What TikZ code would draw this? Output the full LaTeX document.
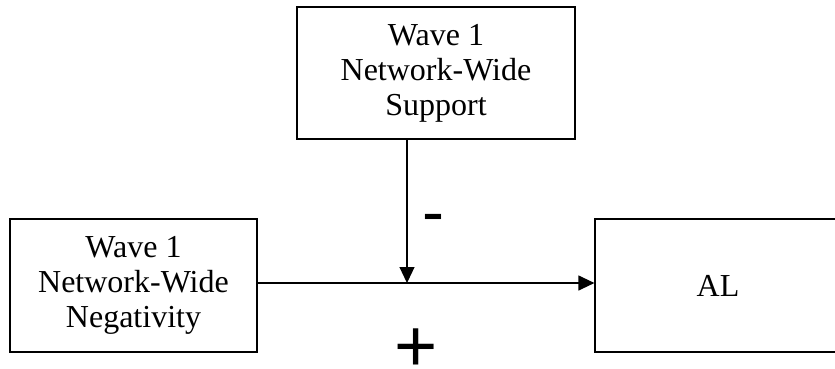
\documentclass[tikz,border=0pt]{standalone}
\usepackage{fontspec}
\setmainfont{Liberation Serif}
\newfontfamily\signfont{Liberation Sans}
\usetikzlibrary{arrows.meta}
\begin{document}
\begin{tikzpicture}[x=1pt,y=1pt,
  boxtext/.style={inner sep=0pt, align=center, font=\fontsize{32}{35}\selectfont},
  varbox/.style={draw, line width=1.2pt, boxtext},
  link/.style={line width=1.2pt, -{Triangle[length=16pt,width=15pt]}},
  sign/.style={inner sep=0pt, anchor=base},
]
\useasboundingbox (0,0) rectangle (835,368);
\clip (0,0) rectangle (835,368);

% variables
\node[varbox, minimum width=278pt, minimum height=132pt] (sup) at (436,295)
  {Wave 1\\Network-Wide\\Support};
\node[varbox, minimum width=247pt, minimum height=133pt] (neg) at (133.5,82.5)
  {Wave 1\\Network-Wide\\Negativity};
% outcome box runs past the right margin
\node[draw, line width=1.2pt, minimum width=300pt, minimum height=133pt,
  inner sep=0pt] (al) at (745,82.5) {};
\node[boxtext] (altext) at (718,82.5) {AL};

% moderation point on the main path
\coordinate (jn) at (407,85);

% paths
\draw[link] (neg.east |- jn) -- (al.west |- jn);
\draw[link] (sup.south -| jn) -- (jn);

% signs of the effects
\node[sign, font=\signfont\fontsize{66}{66}\selectfont] (minus) at (433,133.6) {-};
\node[sign, font=\signfont\fontsize{74}{74}\selectfont] (plus) at (416,-3.5) {+};
\end{tikzpicture}
\end{document}
